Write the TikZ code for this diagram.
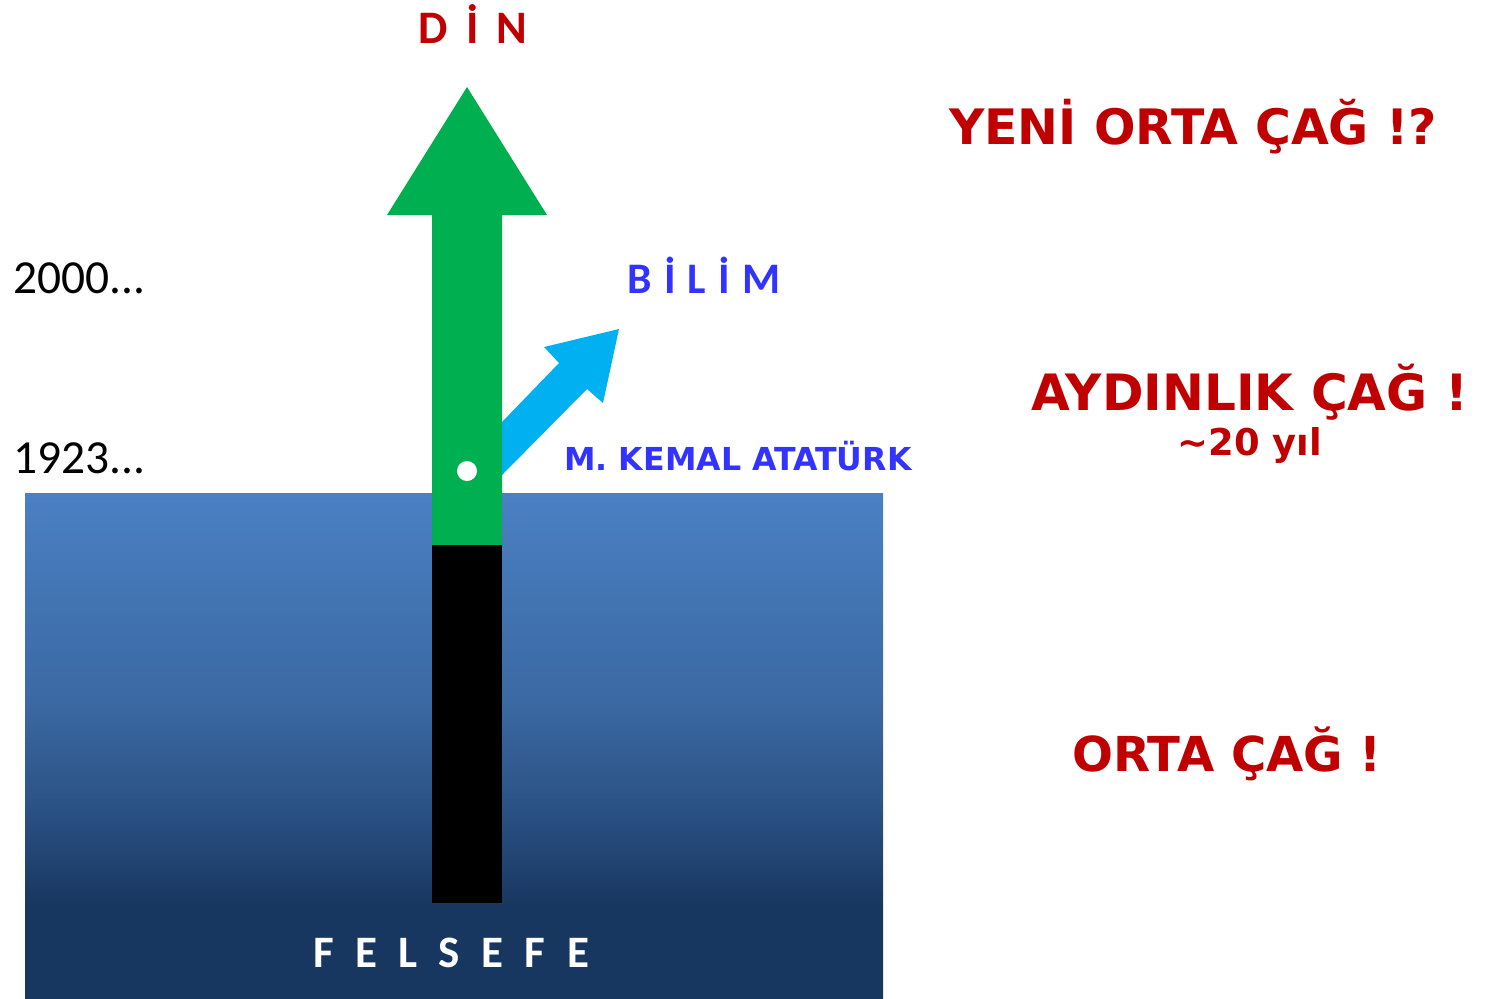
\documentclass[tikz,border=0pt]{standalone}
\usepackage{fontspec}
\setmainfont{Carlito}
\newfontfamily\verdbold{DejaVu Sans}[BoldFont={DejaVu Sans Bold}]
\usepackage{xcolor}
\usepackage{tikz}
\usetikzlibrary{positioning}

\definecolor{cagred}{HTML}{C00000}
\definecolor{bilimblue}{HTML}{3333FF}
\definecolor{dingreen}{HTML}{00B050}
\definecolor{bilimcyan}{HTML}{00B0F0}
\definecolor{seatop}{HTML}{4A80C4}
\definecolor{seamid}{HTML}{3B69A3}
\definecolor{sealow}{HTML}{2C5488}
\definecolor{seadark}{HTML}{183760}

% vertical shading of the sea: dark at the bottom, light at the top
\pgfdeclareverticalshading{sea}{100bp}{
    color(0bp)=(seadark); color(34.2bp)=(seadark);
    color(44.6bp)=(sealow); color(54.5bp)=(seamid);
    color(75bp)=(seatop); color(100bp)=(seatop)}

\begin{document}
\begin{tikzpicture}[
    x=0.2mm, y=-0.2mm,
    every node/.style={inner sep=0pt, outer sep=0pt},
    cag/.style={font=\verdbold\bfseries\fontsize{28.5}{30}\selectfont, text=cagred, anchor=base},
    year/.style={font=\fontsize{27}{28}\selectfont, anchor=base west},
    spaced/.style={anchor=base}
]
\useasboundingbox (0,0) rectangle (1490,998);

% Sea (felsefe)
\shade[shading=sea] (25,493) rectangle (883,998);

% Bilim arrow
\fill[bilimcyan] (502,422) -- (559,363) -- (544,347) -- (619,329)
    -- (603,403) -- (587,389) -- (502,475) -- cycle;

% Din arrow
\fill[dingreen] (432,545) -- (432,215) -- (387,215) -- (467,87)
    -- (547,215) -- (502,215) -- (502,545) -- cycle;
\fill[black] (432,545) rectangle (502,903);
\fill[white] (467,471) circle (10);

% Labels on the arrows
\node[spaced, text=cagred, font=\bfseries\fontsize{26.5}{28}\selectfont\addfontfeature{LetterSpace=16}] (din) at (473,43) {D İ N};
\node[spaced, text=bilimblue, font=\bfseries\fontsize{24.8}{26}\selectfont\addfontfeature{LetterSpace=5}] (bilim) at (704,293) {B İ L İ M};
\node[anchor=base, text=bilimblue, font=\verdbold\bfseries\fontsize{18}{19}\selectfont] (ataturk) at (738,470) {M. KEMAL ATATÜRK};
\node[spaced, text=white, font=\bfseries\fontsize{25.6}{27}\selectfont\addfontfeature{LetterSpace=25}] (felsefe) at (451,967) {F E L S E F E};

% Years
\node[year] (y2000) at (13,293) {2000...};
\node[year] (y1923) at (13,473) {1923...};

% Ages
\node[cag, font=\verdbold\bfseries\fontsize{27.8}{30}\selectfont] (yeni) at (1193,144) {YENİ ORTA ÇAĞ !?};
\node[cag] (aydinlik) at (1250,410) {AYDINLIK ÇAĞ !};
\node[cag, font=\verdbold\bfseries\fontsize{21}{22}\selectfont] (yil) at (1250,455) {\char"223C 20 yıl};
\node[cag, font=\verdbold\bfseries\fontsize{27.4}{30}\selectfont] (orta) at (1227,771) {ORTA ÇAĞ !};

\end{tikzpicture}
\end{document}
